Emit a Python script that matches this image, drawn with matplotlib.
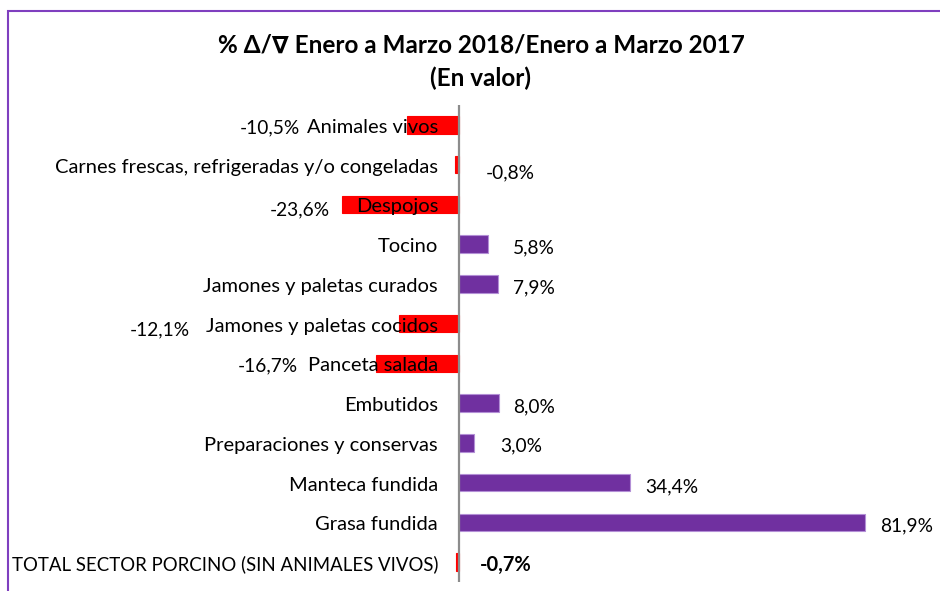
import matplotlib
matplotlib.use("Agg")
import matplotlib.pyplot as plt
import matplotlib.transforms as mtrans
from matplotlib.patches import Rectangle

categories = [
    "Animales vivos",
    "Carnes frescas, refrigeradas y/o congeladas",
    "Despojos",
    "Tocino",
    "Jamones y paletas curados",
    "Jamones y paletas cocidos",
    "Panceta salada",
    "Embutidos",
    "Preparaciones y conservas",
    "Manteca fundida",
    "Grasa fundida",
    "TOTAL SECTOR PORCINO (SIN ANIMALES VIVOS)",
]
values = [-10.5, -0.8, -23.6, 5.8, 7.9, -12.1, -16.7, 8.0, 3.0, 34.4, 81.9, -0.7]
value_labels = ["-10,5%", "-0,8%", "-23,6%", "5,8%", "7,9%", "-12,1%", "-16,7%",
                "8,0%", "3,0%", "34,4%", "81,9%", "-0,7%"]

# label anchor positions (data units, left edge) and vertical pixel offsets
label_x = [-44.2, 5.4, -38.1, 10.9, 10.9, -66.4, -44.6, 10.9, 8.3, 37.5, 84.9, 4.2]
label_dy = [0, 6, 3, 1, 1, 4, 0, 1, 0, 2, 1, 0]

FONT = ["Lato", "DejaVu Sans"]
plt.rcParams["font.family"] = FONT

W, H = 940, 591
fig = plt.figure(figsize=(W / 100, H / 100), dpi=100)

# border (right and bottom edges fall outside the image)
fig.patches.append(Rectangle((8 / W, -0.1), 1.2, 1.1 - 11 / H, transform=fig.transFigure,
                             fill=False, edgecolor="#7F3FBF", linewidth=1.5, clip_on=False))

ax_left, ax_right = 10 / W, 935 / W
ax_bottom, ax_top = 1 - 582 / H, 1 - 105 / H
ax = fig.add_axes([ax_left, ax_bottom, ax_right - ax_left, ax_top - ax_bottom])
ax.set_facecolor("none")

zero_px = 459
ppu = 4.957
xmin = (10 - zero_px) / ppu
xmax = (935 - zero_px) / ppu
ax.set_xlim(xmin, xmax)
ax.set_ylim(len(categories) - 0.5, -0.5)

colors = ["#FF0000" if v < 0 else "#7030A0" for v in values]
edges = ["#FF0000" if v < 0 else "#B38FD6" for v in values]
ax.barh(range(len(categories)), values, height=0.44, color=colors,
        edgecolor=edges, linewidth=0.8, zorder=2)

ax.axvline(0, color="#8C8C8C", linewidth=1.6, zorder=3)

for s in ax.spines.values():
    s.set_visible(False)
ax.set_xticks([])
ax.set_yticks(range(len(categories)))
ax.set_yticklabels([])
ax.tick_params(axis="y", length=0)

for i, c in enumerate(categories):
    fs = 13.4 if c.isupper() else 14.5
    ax.text(0, i, c, ha="right", va="center", fontsize=fs, color="#000000",
            transform=ax.transData + mtrans.ScaledTranslation(-21 / 100, -2.5 / 100, fig.dpi_scale_trans),
            zorder=4)

for i, (lab, lx, dy) in enumerate(zip(value_labels, label_x, label_dy)):
    bold = i == len(categories) - 1
    ax.text(lx, i, lab, ha="left", va="center", fontsize=14.5 if bold else 13.8,
            fontweight="bold" if bold else "normal", color="#000000",
            transform=ax.transData + mtrans.ScaledTranslation(0, -(dy + 2.5) / 100, fig.dpi_scale_trans),
            zorder=4)

fig.text(481 / W, 1 - 45 / H, "% \u0394/\u2207 Enero a Marzo 2018/Enero a Marzo 2017",
         ha="center", va="center", fontsize=17.5, fontweight="bold", family=FONT)
fig.text(481 / W, 1 - 78 / H, "(En valor)", ha="center", va="center",
         fontsize=17.5, fontweight="bold", family=FONT)

fig.savefig("out.png", dpi=100)
